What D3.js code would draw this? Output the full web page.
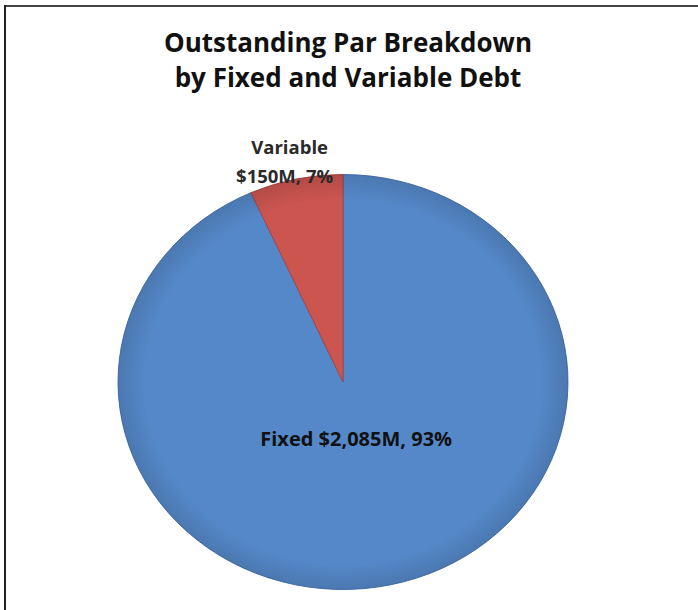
<!DOCTYPE html>
<html>
<head>
<meta charset="utf-8">
<script src="https://cdn.jsdelivr.net/npm/d3@7"></script>
<style>
  body { margin: 0; background: #fff; }
  text { font-family: "Open Sans", Lato, sans-serif; }
</style>
</head>
<body>
<svg id="chart" width="698" height="610"></svg>
<script>
var categories = ['Fixed', 'Variable'];
var values = [2085, 150];        // $M
var percents = ['93%', '7%'];
var colors = ['#5588c8', '#cc5550'];
var edgeColors = ['#4470ad', '#a84441'];

var titleLines = ['Outstanding Par Breakdown', 'by Fixed and Variable Debt'];

var svg = d3.select('svg#chart');

// frame (only top and left edges show in the picture)
svg.append('line').attr('x1', 4).attr('y1', 6).attr('x2', 698).attr('y2', 6)
  .attr('stroke', '#444').attr('stroke-width', 2);
svg.append('line').attr('x1', 5).attr('y1', 5).attr('x2', 5).attr('y2', 610)
  .attr('stroke', '#222').attr('stroke-width', 2);

svg.selectAll('text.title')
  .data(titleLines)
  .join('text')
  .classed('title', true)
  .attr('x', 348)
  .attr('y', function(d, i) { return 52 + i * 35; })
  .attr('text-anchor', 'middle')
  .attr('font-size', 26)
  .attr('font-weight', 'bold')
  .attr('fill', '#111')
  .text(function(d) { return d; });

var data = categories.map(function(c, i) {
  return {name: c, value: values[i], pct: percents[i]};
});

var rx = 225, ry = 207.5;
var cx = 343, cy = 382;

var pie = d3.pie().sort(null).value(function(d) { return d.value; });
var arcs = pie(data);

var arc = d3.arc().innerRadius(0).outerRadius(rx);

// soft darker rim, like the bevel in the original
var defs = svg.append('defs');
var rim = defs.append('radialGradient').attr('id', 'rim');
rim.append('stop').attr('offset', '0.88').attr('stop-color', '#000').attr('stop-opacity', 0);
rim.append('stop').attr('offset', '1').attr('stop-color', '#000').attr('stop-opacity', 0.12);

// draw the circle pie, then squash it to the ellipse of the picture
var g = svg.append('g')
  .attr('transform', 'translate(' + cx + ',' + cy + ') scale(1,' + (ry / rx) + ')');

g.selectAll('path.slice')
  .data(arcs)
  .join('path')
  .classed('slice', true)
  .attr('d', arc)
  .attr('fill', function(d) { return colors[d.index]; })
  .attr('stroke', function(d) { return edgeColors[d.index]; })
  .attr('stroke-width', 1);

g.append('circle')
  .attr('r', rx)
  .attr('fill', 'url(#rim)');

// labels
var inner = d3.arc().innerRadius(0).outerRadius(rx * 0.56);
var outer = d3.arc().innerRadius(rx * 1.07).outerRadius(rx * 1.07);

function place(p) {
  return [cx + p[0], cy + p[1] * ry / rx];
}

var fixed = place(inner.centroid(arcs[0]));
svg.append('text')
  .attr('x', fixed[0])
  .attr('y', fixed[1] + 7)
  .attr('text-anchor', 'middle')
  .attr('font-size', 20)
  .attr('font-weight', 'bold')
  .attr('fill', '#111')
  .text(categories[0] + ' $' + d3.format(',')(values[0]) + 'M, ' + percents[0]);

var variable = place(outer.centroid(arcs[1]));
var vt = svg.append('text')
  .attr('text-anchor', 'middle')
  .attr('font-size', 18.5)
  .attr('font-weight', 'bold')
  .attr('fill', '#2a2a2a');
vt.append('tspan').attr('x', variable[0] - 3).attr('y', variable[1] - 11).text(categories[1]);
vt.append('tspan').attr('x', variable[0] - 8).attr('y', variable[1] + 18)
  .text('$' + values[1] + 'M, ' + percents[1]);
</script>
</body>
</html>
